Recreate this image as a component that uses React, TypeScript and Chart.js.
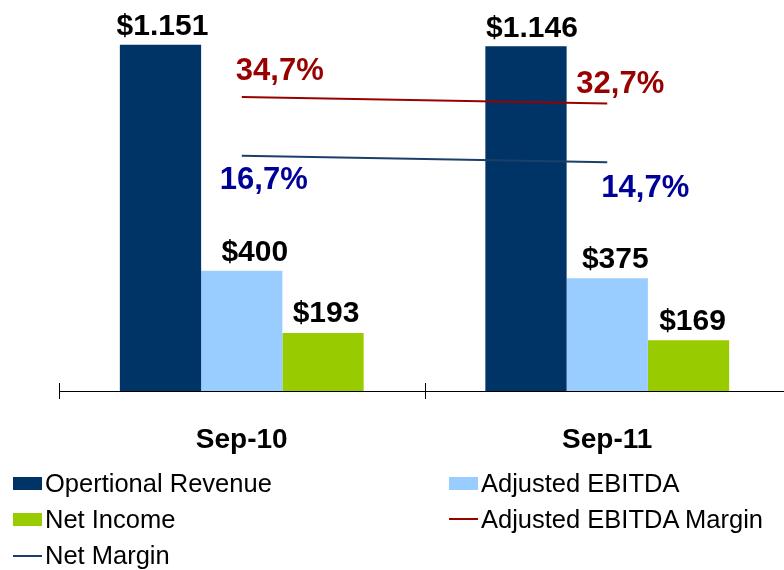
import React, { useEffect, useRef } from 'react';
import { Chart, registerables } from 'chart.js';

Chart.register(...registerables);

// ---------- data ----------
const categories = ['Sep-10', 'Sep-11'];
const operationalRevenue = [1151, 1146];
const adjustedEbitda = [400, 375];
const netIncome = [193, 169];
const adjustedEbitdaMargin = [34.7, 32.7];
const netMargin = [16.7, 14.7];

const seriesNames = [
  'Opertional Revenue',
  'Adjusted EBITDA',
  'Net Income',
  'Adjusted EBITDA Margin',
  'Net Margin',
];

// ---------- style ----------
const FONT = '"Liberation Sans", Arial, Helvetica, sans-serif';
const COLORS = {
  revenue: '#003366',
  ebitda: '#99CCFF',
  netIncome: '#99CC00',
  ebitdaMarginLine: '#990000',
  netMarginLine: '#1B3F6B',
  ebitdaMarginText: '#990000',
  netMarginText: '#000099',
};

const money = (v: number) => '$' + v.toLocaleString('de-DE');
const pct = (v: number) => v.toFixed(1).replace('.', ',') + '%';

// label style per dataset index: [dx, dy] offsets relative to the element
const LABEL_STYLE: Record<number, { font: string; color: string; fmt: (v: number) => string; off: number[][] }> = {
  0: { font: `bold 30px ${FONT}`, color: '#000', fmt: money, off: [[2, -10], [6, -9]] },
  1: { font: `bold 30px ${FONT}`, color: '#000', fmt: money, off: [[13, -10], [8, -10]] },
  2: { font: `bold 30px ${FONT}`, color: '#000', fmt: money, off: [[3, -11], [4, -10]] },
  3: { font: `bold 31px ${FONT}`, color: COLORS.ebitdaMarginText, fmt: pct, off: [[38, -17], [13, -11]] },
  4: { font: `bold 31px ${FONT}`, color: COLORS.netMarginText, fmt: pct, off: [[22, 33], [38, 35]] },
};

const valueLabelPlugin = {
  id: 'valueLabels',
  afterDatasetsDraw(chart: any) {
    const ctx = chart.ctx;
    ctx.save();
    chart.data.datasets.forEach((ds: any, di: number) => {
      const st = LABEL_STYLE[di];
      if (!st) return;
      const meta = chart.getDatasetMeta(di);
      meta.data.forEach((el: any, i: number) => {
        const [dx, dy] = st.off[i] || [0, 0];
        ctx.font = st.font;
        ctx.fillStyle = st.color;
        ctx.textAlign = 'center';
        ctx.textBaseline = 'alphabetic';
        ctx.fillText(st.fmt(ds.data[i] as number), el.x + dx, el.y + dy);
      });
    });
    ctx.restore();
  },
};

const crossTickPlugin = {
  id: 'crossTicks',
  afterDraw(chart: any) {
    const ctx = chart.ctx;
    const x = chart.scales.x;
    const bottom = chart.chartArea.bottom;
    const n = categories.length;
    const w = (x.right - x.left) / n;
    ctx.save();
    ctx.strokeStyle = '#000';
    ctx.lineWidth = 1;
    ctx.beginPath();
    for (let i = 0; i <= n; i++) {
      const px = Math.round(x.left + i * w) + 0.5;
      ctx.moveTo(px, bottom - 8);
      ctx.lineTo(px, bottom + 8);
    }
    ctx.stroke();
    ctx.restore();
  },
};

function Legend() {
  const rowTop = [470.5, 506.7, 542.9];
  const items = [
    { name: seriesNames[0], kind: 'box', color: COLORS.revenue, col: 0, row: 0 },
    { name: seriesNames[1], kind: 'box', color: COLORS.ebitda, col: 1, row: 0 },
    { name: seriesNames[2], kind: 'box', color: COLORS.netIncome, col: 0, row: 1 },
    { name: seriesNames[3], kind: 'line', color: COLORS.ebitdaMarginLine, col: 1, row: 1 },
    { name: seriesNames[4], kind: 'line', color: COLORS.netMarginLine, col: 0, row: 2 },
  ];
  const swX = [13, 449];
  const txX = [45, 481];
  return (
    <>
      {items.map((it) => {
        const top = rowTop[it.row];
        const midY = top + 21.2 - 8.5;
        return (
          <React.Fragment key={it.name}>
            {it.kind === 'box' ? (
              <div
                style={{
                  position: 'absolute',
                  left: swX[it.col],
                  top: midY - 6,
                  width: 29,
                  height: 12.5,
                  background: it.color,
                }}
              />
            ) : (
              <div
                style={{
                  position: 'absolute',
                  left: swX[it.col],
                  top: midY - 1,
                  width: 29,
                  height: 2,
                  background: it.color,
                }}
              />
            )}
            <div
              style={{
                position: 'absolute',
                left: txX[it.col],
                top,
                fontFamily: FONT,
                fontSize: 25.5,
                lineHeight: '25px',
                color: '#000',
                whiteSpace: 'nowrap',
              }}
            >
              {it.name}
            </div>
          </React.Fragment>
        );
      })}
    </>
  );
}

export default function App() {
  const ref = useRef<HTMLCanvasElement | null>(null);

  useEffect(() => {
    if (!ref.current) return;
    const chart = new Chart(ref.current, {
      type: 'bar',
      data: {
        labels: categories,
        datasets: [
          {
            type: 'bar',
            label: seriesNames[0],
            data: operationalRevenue,
            backgroundColor: COLORS.revenue,
            borderWidth: 0,
            yAxisID: 'y',
            order: 2,
            categoryPercentage: 0.667,
            barPercentage: 1,
          },
          {
            type: 'bar',
            label: seriesNames[1],
            data: adjustedEbitda,
            backgroundColor: COLORS.ebitda,
            borderWidth: 0,
            yAxisID: 'y',
            order: 2,
            categoryPercentage: 0.667,
            barPercentage: 1,
          },
          {
            type: 'bar',
            label: seriesNames[2],
            data: netIncome,
            backgroundColor: COLORS.netIncome,
            borderWidth: 0,
            yAxisID: 'y',
            order: 2,
            categoryPercentage: 0.667,
            barPercentage: 1,
          },
          {
            type: 'line',
            label: seriesNames[3],
            data: adjustedEbitdaMargin,
            borderColor: COLORS.ebitdaMarginLine,
            backgroundColor: COLORS.ebitdaMarginLine,
            borderWidth: 2,
            pointRadius: 0,
            tension: 0,
            fill: false,
            yAxisID: 'y1',
            order: 1,
          },
          {
            type: 'line',
            label: seriesNames[4],
            data: netMargin,
            borderColor: COLORS.netMarginLine,
            backgroundColor: COLORS.netMarginLine,
            borderWidth: 2,
            pointRadius: 0,
            tension: 0,
            fill: false,
            yAxisID: 'y1',
            order: 1,
          },
        ] as any,
      },
      options: {
        responsive: false,
        animation: false,
        devicePixelRatio: 1,
        layout: { padding: { left: 59, right: 10, top: 0, bottom: 0 } },
        plugins: {
          legend: { display: false },
          tooltip: { enabled: false },
        },
        scales: {
          x: {
            offset: true,
            grid: { display: false },
            border: { display: true, color: '#000', width: 1 },
            ticks: {
              color: '#000',
              font: { family: FONT, size: 28, weight: 'bold' },
              padding: 24,
              maxRotation: 0,
            },
            afterFit(scale: any) {
              scale.height = 179;
            },
          },
          y: {
            display: false,
            min: 0,
            max: 1300,
          },
          y1: {
            display: false,
            position: 'right',
            min: -55.5,
            max: 64.5,
          },
        },
      } as any,
      plugins: [valueLabelPlugin, crossTickPlugin],
    });
    return () => chart.destroy();
  }, []);

  return (
    <div
      style={{
        position: 'absolute',
        left: 0,
        top: 0,
        width: 784,
        height: 570,
        overflow: 'hidden',
        background: '#fff',
      }}
    >
      <canvas
        ref={ref}
        width={800}
        height={570}
        style={{ position: 'absolute', left: 0, top: 0, width: 800, height: 570, display: 'block' }}
      />
      <Legend />
    </div>
  );
}
